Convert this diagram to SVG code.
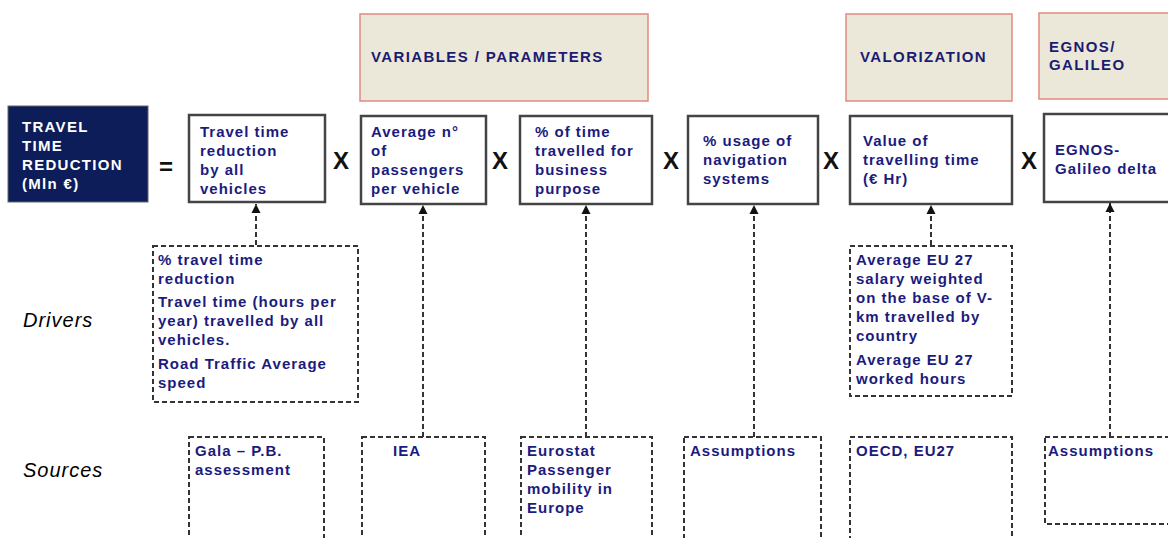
<svg xmlns="http://www.w3.org/2000/svg" width="1168" height="538" viewBox="0 0 1168 538">
<style>
.hdr{fill:#ebe8d9;stroke:#e08a80;stroke-width:1.5}
.hdrt{font-family:"Liberation Sans",Arial,sans-serif;font-weight:bold;font-size:15px;letter-spacing:1.4px;fill:#1b1b72}
.box{fill:#fff;stroke:#444;stroke-width:2.5}
.t{font-family:"Liberation Sans",Arial,sans-serif;font-weight:bold;font-size:15px;letter-spacing:1px;fill:#1b1b7d}
.wt{font-family:"Liberation Sans",Arial,sans-serif;font-weight:bold;font-size:15px;letter-spacing:1.3px;fill:#fff}
.dash{fill:#fff;stroke:#333;stroke-width:2;stroke-dasharray:5 3}
.op{font-family:"Liberation Sans",Arial,sans-serif;font-weight:bold;font-size:24px;fill:#111;text-anchor:middle}
.lbl{font-family:"Liberation Sans",Arial,sans-serif;font-style:italic;font-size:20px;letter-spacing:1px;fill:#000}
.con{fill:none;stroke:#333;stroke-width:2;stroke-dasharray:5 3}
</style>
<defs>
<marker id="arr" markerUnits="userSpaceOnUse" markerWidth="10" markerHeight="10" refX="9" refY="5" orient="auto">
<path d="M0,0.5 L9,5 L0,9.5 Z" fill="#111"/>
</marker>
</defs>
<rect width="1168" height="538" fill="#fff"/>

<g id="hdr-variables"><rect class="hdr" x="360" y="14" width="288" height="87"/><text class="hdrt" x="371" y="62">VARIABLES / PARAMETERS</text></g>
<g id="hdr-valorization"><rect class="hdr" x="846" y="14" width="166" height="87"/><text class="hdrt" x="860" y="62">VALORIZATION</text></g>
<g id="hdr-egnos"><rect class="hdr" x="1039" y="13" width="140" height="86"/><text class="hdrt" x="1049" y="52">EGNOS/</text><text class="hdrt" x="1049" y="70">GALILEO</text></g>

<g id="result"><rect x="8" y="106" width="140" height="96" fill="#0c1d5a" stroke="#666" stroke-width="1"/>
<text class="wt" x="22" y="132">TRAVEL</text><text class="wt" x="22" y="151">TIME</text><text class="wt" x="22" y="170">REDUCTION</text><text class="wt" x="22" y="189">(Mln €)</text></g>
<text class="op" x="166" y="175">=</text>

<g id="travel-time"><rect class="box" x="189" y="115" width="136" height="87"/>
<text class="t" x="200" y="137">Travel time</text><text class="t" x="200" y="156">reduction</text><text class="t" x="200" y="175">by all</text><text class="t" x="200" y="194">vehicles</text></g>
<text class="op" x="341" y="169">X</text>

<g id="passengers"><rect class="box" x="361" y="116" width="125" height="88"/>
<text class="t" x="371" y="137">Average n°</text><text class="t" x="371" y="156">of</text><text class="t" x="371" y="175">passengers</text><text class="t" x="371" y="194">per vehicle</text></g>
<text class="op" x="500" y="169">X</text>

<g id="business"><rect class="box" x="520" y="116" width="132" height="88"/>
<text class="t" x="535" y="137">% of time</text><text class="t" x="535" y="156">travelled for</text><text class="t" x="535" y="175">business</text><text class="t" x="535" y="194">purpose</text></g>
<text class="op" x="671" y="169">X</text>

<g id="navigation"><rect class="box" x="688" y="116" width="130" height="88"/>
<text class="t" x="703" y="146">% usage of</text><text class="t" x="703" y="165">navigation</text><text class="t" x="703" y="184">systems</text></g>
<text class="op" x="831" y="169">X</text>

<g id="value-time"><rect class="box" x="850" y="116" width="162" height="88"/>
<text class="t" x="863" y="146">Value of</text><text class="t" x="863" y="165">travelling time</text><text class="t" x="863" y="184">(€ Hr)</text></g>
<text class="op" x="1029" y="169">X</text>

<g id="egnos-delta"><rect class="box" x="1044" y="114" width="140" height="88"/>
<text class="t" x="1055" y="155">EGNOS-</text><text class="t" x="1055" y="174">Galileo delta</text></g>

<text class="lbl" x="23" y="327">Drivers</text>
<text class="lbl" x="23" y="477">Sources</text>

<g id="driver-travel"><rect class="dash" x="153" y="246" width="205" height="156"/>
<text class="t" x="158" y="265">% travel time</text><text class="t" x="158" y="284">reduction</text>
<text class="t" x="158" y="307">Travel time (hours per</text><text class="t" x="158" y="326">year) travelled by all</text><text class="t" x="158" y="345">vehicles.</text>
<text class="t" x="158" y="369">Road Traffic Average</text><text class="t" x="158" y="388">speed</text></g>

<g id="driver-value"><rect class="dash" x="850" y="246" width="162" height="150"/>
<text class="t" x="856" y="265">Average EU 27</text><text class="t" x="856" y="284">salary weighted</text><text class="t" x="856" y="303">on the base of V-</text><text class="t" x="856" y="322">km travelled by</text><text class="t" x="856" y="341">country</text>
<text class="t" x="856" y="365">Average EU 27</text><text class="t" x="856" y="384">worked hours</text></g>

<g id="src-gala"><rect class="dash" x="189" y="437" width="135" height="110"/><text class="t" x="195" y="456">Gala – P.B.</text><text class="t" x="195" y="475">assessment</text></g>
<g id="src-iea"><rect class="dash" x="362" y="437" width="123" height="110"/><text class="t" x="393" y="456">IEA</text></g>
<g id="src-eurostat"><rect class="dash" x="521" y="437" width="131" height="110"/><text class="t" x="527" y="456">Eurostat</text><text class="t" x="527" y="475">Passenger</text><text class="t" x="527" y="494">mobility in</text><text class="t" x="527" y="513">Europe</text></g>
<g id="src-assump1"><rect class="dash" x="684" y="437" width="137" height="110"/><text class="t" x="690" y="456">Assumptions</text></g>
<g id="src-oecd"><rect class="dash" x="850" y="437" width="162" height="110"/><text class="t" x="856" y="456">OECD, EU27</text></g>
<g id="src-assump2"><rect class="dash" x="1045" y="437" width="140" height="87"/><text class="t" x="1048" y="456">Assumptions</text></g>

<g id="connectors">
<line class="con" x1="256" y1="245" x2="256" y2="204" marker-end="url(#arr)"/>
<line class="con" x1="423" y1="437" x2="423" y2="205" marker-end="url(#arr)"/>
<line class="con" x1="586" y1="437" x2="586" y2="205" marker-end="url(#arr)"/>
<line class="con" x1="754" y1="437" x2="754" y2="205" marker-end="url(#arr)"/>
<line class="con" x1="931" y1="245" x2="931" y2="205" marker-end="url(#arr)"/>
<line class="con" x1="1110" y1="437" x2="1110" y2="203" marker-end="url(#arr)"/>
</g>
</svg>
